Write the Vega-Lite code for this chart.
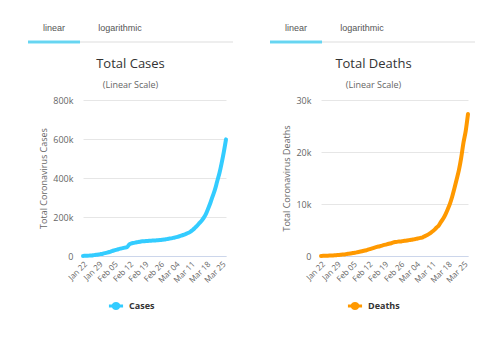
{
  "$schema": "https://vega.github.io/schema/vega-lite/v6.json",
  "padding": {"left": 27, "top": 24, "right": 5, "bottom": 5},
  "background": "white",
  "config": {
    "view": {"stroke": null},
    "font": "Open Sans",
    "axis": {"labelColor": "#666666", "labelFontSize": 8, "titleColor": "#666666", "titleFontSize": 9, "titleFontWeight": "normal", "ticks": false, "labelPadding": 4},
    "legend": {"layout": {"bottom": {"anchor": "middle"}}}
  },
  "datasets": {
    "tabs": [{"tab": "linear"}, {"tab": "logarithmic"}],
    "world": [
      {"date": "2020/01/22", "cases": 580, "deaths": 17},
      {"date": "2020/01/23", "cases": 845, "deaths": 25},
      {"date": "2020/01/24", "cases": 1317, "deaths": 41},
      {"date": "2020/01/25", "cases": 2015, "deaths": 56},
      {"date": "2020/01/26", "cases": 2800, "deaths": 80},
      {"date": "2020/01/27", "cases": 4581, "deaths": 106},
      {"date": "2020/01/28", "cases": 6058, "deaths": 132},
      {"date": "2020/01/29", "cases": 7813, "deaths": 170},
      {"date": "2020/01/30", "cases": 9823, "deaths": 213},
      {"date": "2020/01/31", "cases": 11950, "deaths": 259},
      {"date": "2020/02/01", "cases": 14553, "deaths": 304},
      {"date": "2020/02/02", "cases": 17391, "deaths": 362},
      {"date": "2020/02/03", "cases": 20630, "deaths": 426},
      {"date": "2020/02/04", "cases": 24545, "deaths": 492},
      {"date": "2020/02/05", "cases": 28266, "deaths": 565},
      {"date": "2020/02/06", "cases": 31439, "deaths": 638},
      {"date": "2020/02/07", "cases": 34876, "deaths": 724},
      {"date": "2020/02/08", "cases": 37552, "deaths": 813},
      {"date": "2020/02/09", "cases": 40553, "deaths": 910},
      {"date": "2020/02/10", "cases": 43099, "deaths": 1018},
      {"date": "2020/02/11", "cases": 45134, "deaths": 1115},
      {"date": "2020/02/12", "cases": 59287, "deaths": 1261},
      {"date": "2020/02/13", "cases": 64438, "deaths": 1383},
      {"date": "2020/02/14", "cases": 67100, "deaths": 1526},
      {"date": "2020/02/15", "cases": 69197, "deaths": 1669},
      {"date": "2020/02/16", "cases": 71329, "deaths": 1775},
      {"date": "2020/02/17", "cases": 73332, "deaths": 1873},
      {"date": "2020/02/18", "cases": 75184, "deaths": 2009},
      {"date": "2020/02/19", "cases": 75700, "deaths": 2126},
      {"date": "2020/02/20", "cases": 76677, "deaths": 2247},
      {"date": "2020/02/21", "cases": 77673, "deaths": 2360},
      {"date": "2020/02/22", "cases": 78651, "deaths": 2460},
      {"date": "2020/02/23", "cases": 79205, "deaths": 2618},
      {"date": "2020/02/24", "cases": 80087, "deaths": 2699},
      {"date": "2020/02/25", "cases": 80828, "deaths": 2763},
      {"date": "2020/02/26", "cases": 81820, "deaths": 2800},
      {"date": "2020/02/27", "cases": 83112, "deaths": 2858},
      {"date": "2020/02/28", "cases": 84615, "deaths": 2923},
      {"date": "2020/02/29", "cases": 86604, "deaths": 2977},
      {"date": "2020/03/01", "cases": 88585, "deaths": 3050},
      {"date": "2020/03/02", "cases": 90443, "deaths": 3117},
      {"date": "2020/03/03", "cases": 93016, "deaths": 3202},
      {"date": "2020/03/04", "cases": 95314, "deaths": 3285},
      {"date": "2020/03/05", "cases": 98425, "deaths": 3387},
      {"date": "2020/03/06", "cases": 102050, "deaths": 3494},
      {"date": "2020/03/07", "cases": 106099, "deaths": 3599},
      {"date": "2020/03/08", "cases": 109991, "deaths": 3827},
      {"date": "2020/03/09", "cases": 114381, "deaths": 4025},
      {"date": "2020/03/10", "cases": 118948, "deaths": 4296},
      {"date": "2020/03/11", "cases": 126214, "deaths": 4628},
      {"date": "2020/03/12", "cases": 134576, "deaths": 4981},
      {"date": "2020/03/13", "cases": 145483, "deaths": 5428},
      {"date": "2020/03/14", "cases": 156653, "deaths": 5833},
      {"date": "2020/03/15", "cases": 169593, "deaths": 6520},
      {"date": "2020/03/16", "cases": 182490, "deaths": 7162},
      {"date": "2020/03/17", "cases": 198238, "deaths": 7979},
      {"date": "2020/03/18", "cases": 218822, "deaths": 8951},
      {"date": "2020/03/19", "cases": 246088, "deaths": 10030},
      {"date": "2020/03/20", "cases": 275869, "deaths": 11386},
      {"date": "2020/03/21", "cases": 308463, "deaths": 13031},
      {"date": "2020/03/22", "cases": 341365, "deaths": 14755},
      {"date": "2020/03/23", "cases": 383580, "deaths": 16558},
      {"date": "2020/03/24", "cases": 424229, "deaths": 18916},
      {"date": "2020/03/25", "cases": 475200, "deaths": 21800},
      {"date": "2020/03/26", "cases": 532618, "deaths": 24073},
      {"date": "2020/03/27", "cases": 598000, "deaths": 27300}
    ]
  },
  "resolve": {"scale": {"color": "independent", "x": "independent", "y": "independent"}},
  "spacing": 35,
  "hconcat": [
    {
      "spacing": 14,
      "vconcat": [
        {
          "width": 143, "height": 14,
          "data": {"name": "tabs"},
          "resolve": {"scale": {"x": "independent"}},
          "layer": [
            {"data": {"values": [{"span": 0}]},
             "mark": {"type": "rule", "color": "#eeeeee", "strokeWidth": 2},
             "encoding": {"x": {"datum": 0, "type": "quantitative", "scale": {"domain": [0, 1], "range": [-55, 150]}, "axis": null},
                          "x2": {"datum": 1},
                          "y": {"datum": 0, "type": "quantitative", "scale": {"domain": [0, 1]}, "axis": null}}},
            {"layer": [
              {"mark": {"type": "text", "fontSize": 9, "color": "#555555", "baseline": "middle", "font": "Liberation Sans"},
               "encoding": {"x": {"field": "tab", "type": "nominal", "scale": {"type": "point", "range": [-29, 37], "padding": 0}, "axis": null},
                            "y": {"datum": 1, "type": "quantitative"}, "text": {"field": "tab"}}},
              {"transform": [{"filter": "datum.tab === 'linear'"}],
               "mark": {"type": "tick", "orient": "horizontal", "size": 52, "thickness": 3, "color": "#2ecbf2"},
               "encoding": {"x": {"field": "tab", "type": "nominal"}, "y": {"datum": 0, "type": "quantitative"}}}
            ]}
          ]
        },
        {
          "width": 143, "height": 156,
          "title": {"text": "Total Cases", "subtitle": "(Linear Scale)", "fontSize": 13, "fontWeight": "normal", "color": "#333333", "subtitleFontSize": 9, "subtitleColor": "#666666", "subtitlePadding": 10, "offset": 6, "anchor": "middle", "dx": -24},
          "data": {"name": "world"},
          "mark": {"type": "line", "interpolate": "monotone", "strokeWidth": 4, "strokeCap": "round"},
          "encoding": {
            "x": {"field": "date", "type": "temporal", "title": null,
                  "scale": {"domain": [{"year": 2020, "month": 1, "date": 22}, {"year": 2020, "month": 3, "date": 27}]},
                  "axis": {"labelAngle": -45, "format": "%b %d", "grid": false, "domainColor": "#ccd6eb", "labelOverlap": false,
                           "values": [{"year": 2020, "month": 1, "date": 22}, {"year": 2020, "month": 1, "date": 29}, {"year": 2020, "month": 2, "date": 5}, {"year": 2020, "month": 2, "date": 12}, {"year": 2020, "month": 2, "date": 19}, {"year": 2020, "month": 2, "date": 26}, {"year": 2020, "month": 3, "date": 4}, {"year": 2020, "month": 3, "date": 11}, {"year": 2020, "month": 3, "date": 18}, {"year": 2020, "month": 3, "date": 25}]}},
            "y": {"field": "cases", "type": "quantitative", "scale": {"domain": [0, 800000]},
                  "axis": {"title": "Total Coronavirus Cases", "values": [0, 200000, 400000, 600000, 800000], "labelExpr": "datum.value === 0 ? '0' : format(datum.value / 1000, 'd') + 'k'", "labelFontSize": 9, "domain": false, "gridColor": "#e6e6e6", "labelPadding": 10}},
            "color": {"datum": "Cases", "scale": {"range": ["#33ccff"]},
                      "legend": {"title": null, "orient": "bottom", "symbolType": "M-1,0L1,0M-0.4,0A0.4,0.35,0,1,0,0.4,0A0.4,0.35,0,1,0,-0.4,0", "symbolFillColor": "#33ccff", "symbolStrokeWidth": 3, "symbolSize": 200, "labelFontSize": 9, "labelFontWeight": "bold", "labelColor": "#333333", "offset": 12}}
          }
        }
      ]
    },
    {
      "spacing": 14,
      "vconcat": [
        {
          "width": 147, "height": 14,
          "data": {"name": "tabs"},
          "resolve": {"scale": {"x": "independent"}},
          "layer": [
            {"data": {"values": [{"span": 0}]},
             "mark": {"type": "rule", "color": "#eeeeee", "strokeWidth": 2},
             "encoding": {"x": {"datum": 0, "type": "quantitative", "scale": {"domain": [0, 1], "range": [-51, 154]}, "axis": null},
                          "x2": {"datum": 1},
                          "y": {"datum": 0, "type": "quantitative", "scale": {"domain": [0, 1]}, "axis": null}}},
            {"layer": [
              {"mark": {"type": "text", "fontSize": 9, "color": "#555555", "baseline": "middle", "font": "Liberation Sans"},
               "encoding": {"x": {"field": "tab", "type": "nominal", "scale": {"type": "point", "range": [-25, 41], "padding": 0}, "axis": null},
                            "y": {"datum": 1, "type": "quantitative"}, "text": {"field": "tab"}}},
              {"transform": [{"filter": "datum.tab === 'linear'"}],
               "mark": {"type": "tick", "orient": "horizontal", "size": 52, "thickness": 3, "color": "#2ecbf2"},
               "encoding": {"x": {"field": "tab", "type": "nominal"}, "y": {"datum": 0, "type": "quantitative"}}}
            ]}
          ]
        },
        {
          "width": 147, "height": 156,
          "title": {"text": "Total Deaths", "subtitle": "(Linear Scale)", "fontSize": 13, "fontWeight": "normal", "color": "#333333", "subtitleFontSize": 9, "subtitleColor": "#666666", "subtitlePadding": 10, "offset": 6, "anchor": "middle", "dx": -21},
          "data": {"name": "world"},
          "mark": {"type": "line", "interpolate": "monotone", "strokeWidth": 4, "strokeCap": "round"},
          "encoding": {
            "x": {"field": "date", "type": "temporal", "title": null,
                  "scale": {"domain": [{"year": 2020, "month": 1, "date": 22}, {"year": 2020, "month": 3, "date": 27}]},
                  "axis": {"labelAngle": -45, "format": "%b %d", "grid": false, "domainColor": "#ccd6eb", "labelOverlap": false,
                           "values": [{"year": 2020, "month": 1, "date": 22}, {"year": 2020, "month": 1, "date": 29}, {"year": 2020, "month": 2, "date": 5}, {"year": 2020, "month": 2, "date": 12}, {"year": 2020, "month": 2, "date": 19}, {"year": 2020, "month": 2, "date": 26}, {"year": 2020, "month": 3, "date": 4}, {"year": 2020, "month": 3, "date": 11}, {"year": 2020, "month": 3, "date": 18}, {"year": 2020, "month": 3, "date": 25}]}},
            "y": {"field": "deaths", "type": "quantitative", "scale": {"domain": [0, 30000]},
                  "axis": {"title": "Total Coronavirus Deaths", "values": [0, 10000, 20000, 30000], "labelExpr": "datum.value === 0 ? '0' : format(datum.value / 1000, 'd') + 'k'", "labelFontSize": 9, "domain": false, "gridColor": "#e6e6e6", "labelPadding": 10}},
            "color": {"datum": "Deaths", "scale": {"range": ["#ff9900"]},
                      "legend": {"title": null, "orient": "bottom", "symbolType": "M-1,0L1,0M-0.4,0A0.4,0.35,0,1,0,0.4,0A0.4,0.35,0,1,0,-0.4,0", "symbolFillColor": "#ff9900", "symbolStrokeWidth": 3, "symbolSize": 200, "labelFontSize": 9, "labelFontWeight": "bold", "labelColor": "#333333", "offset": 12}}
          }
        }
      ]
    }
  ]
}
